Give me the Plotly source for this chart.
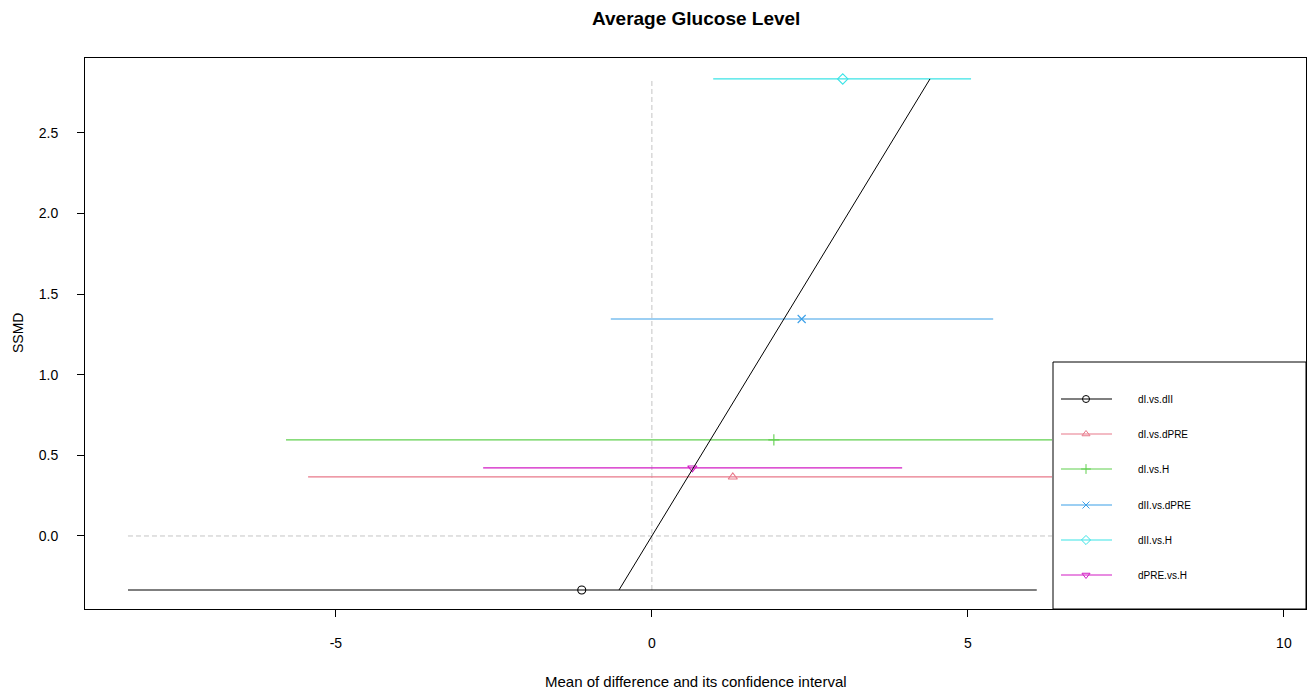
import plotly.graph_objects as go

# ---- data ----
comparisons = ["dI.vs.dII", "dI.vs.dPRE", "dI.vs.H", "dII.vs.dPRE", "dII.vs.H", "dPRE.vs.H"]
mean_diff = [-1.11, 1.28, 1.93, 2.37, 3.02, 0.64]
ci_lower = [-8.29, -5.44, -5.79, -0.65, 0.97, -2.67]
ci_upper = [6.09, 8.00, 9.65, 5.40, 5.05, 3.96]
ssmd = [-0.335, 0.366, 0.596, 1.346, 2.835, 0.422]
fit_x = [-0.52, 4.40]
fit_y = [-0.335, 2.835]
x_ticks = [-5, 0, 5, 10]
y_ticks = [0.0, 0.5, 1.0, 1.5, 2.0, 2.5]

colors = ["#000000", "#E8788A", "#61D04F", "#3A9FE8", "#3BE3E6", "#D21BC4"]
symbols = ["circle-open", "triangle-up-open", "cross-thin-open", "x-thin-open",
           "diamond-open", "triangle-down-open"]

W, H = 1313, 695
L, R, T, B = 85, 1306, 58, 609
FONT = "Liberation Sans, Arial, sans-serif"

fig = go.Figure()

# reference dashed lines
fig.add_trace(go.Scatter(x=[0, 0], y=[min(ssmd), max(ssmd)], mode="lines",
                         line=dict(color="#C4C4C4", width=1, dash="5px,3px"),
                         showlegend=False, hoverinfo="skip"))
fig.add_trace(go.Scatter(x=[min(ci_lower), max(ci_upper)], y=[0, 0], mode="lines",
                         line=dict(color="#C4C4C4", width=1, dash="5px,3px"),
                         showlegend=False, hoverinfo="skip"))

# CI lines and means
for i, name in enumerate(comparisons):
    fig.add_trace(go.Scatter(x=[ci_lower[i], ci_upper[i]], y=[ssmd[i], ssmd[i]], mode="lines",
                             line=dict(color=colors[i], width=1.2),
                             showlegend=False, hoverinfo="skip"))
    fig.add_trace(go.Scatter(x=[mean_diff[i]], y=[ssmd[i]], mode="markers", name=name,
                             marker=dict(symbol=symbols[i], size=8, color=colors[i],
                                         line=dict(width=1.1, color=colors[i])),
                             showlegend=False))

# fitted line
fig.add_trace(go.Scatter(x=fit_x, y=fit_y, mode="lines",
                         line=dict(color="black", width=1), showlegend=False, hoverinfo="skip"))

# ---- manual legend on overlay axes (pixel coordinates) ----
LX0, LX1, LY0, LY1 = 1053, 1306, 362, 609
fig.add_trace(go.Scatter(x=[LX0, LX1, LX1, LX0, LX0], y=[LY1, LY1, LY0, LY0, LY1],
                         mode="lines", fill="toself", fillcolor="white",
                         line=dict(color="black", width=1),
                         xaxis="x2", yaxis="y2", showlegend=False, hoverinfo="skip"))
row_y = [399, 434, 469, 505, 540, 575]
for i, name in enumerate(comparisons):
    fig.add_trace(go.Scatter(x=[1061, 1112], y=[row_y[i], row_y[i]], mode="lines",
                             line=dict(color=colors[i], width=1.2),
                             xaxis="x2", yaxis="y2", showlegend=False, hoverinfo="skip"))
    fig.add_trace(go.Scatter(x=[1086], y=[row_y[i]], mode="markers",
                             marker=dict(symbol=symbols[i], size=7, color=colors[i],
                                         line=dict(width=1, color=colors[i])),
                             xaxis="x2", yaxis="y2", showlegend=False, hoverinfo="skip"))
    fig.add_annotation(x=1136, y=row_y[i], xref="x2", yref="y2", text=name,
                       showarrow=False, xanchor="left", yanchor="middle",
                       font=dict(family=FONT, size=10, color="black"))

pw, ph = R - L, B - T
fig.update_layout(
    width=W, height=H,
    margin=dict(l=L, r=W - R, t=T, b=H - B),
    paper_bgcolor="white", plot_bgcolor="white",
    showlegend=False,
    xaxis=dict(range=[-8.97, 10.35], tickvals=x_ticks, ticktext=[str(v) for v in x_ticks],
               showgrid=False, zeroline=False, showline=True, mirror=True,
               linecolor="black", linewidth=1, ticks="outside", ticklen=7,
               tickcolor="black", ticklabelstandoff=14,
               tickfont=dict(family=FONT, size=14, color="black")),
    yaxis=dict(range=[-0.453, 2.965], tickvals=y_ticks, ticktext=[f"{v:.1f}" for v in y_ticks],
               showgrid=False, zeroline=False, showline=True, mirror=True,
               linecolor="black", linewidth=1, ticks="outside", ticklen=7,
               tickcolor="black", ticklabelstandoff=16,
               tickfont=dict(family=FONT, size=14, color="black")),
    xaxis2=dict(domain=[(1052 - L) / pw, 1], range=[1052, 1306], anchor="y2",
                visible=False, fixedrange=True),
    yaxis2=dict(domain=[0, (B - 360) / ph], range=[609, 360], anchor="x2",
                visible=False, fixedrange=True),
)

fig.add_annotation(x=0.5, y=1 + (T - 18) / ph, xref="paper", yref="paper",
                   text="<b>Average Glucose Level</b>", showarrow=False, yanchor="middle",
                   font=dict(family=FONT, size=19, color="black"))
fig.add_annotation(x=0.5, y=-(681 - B) / ph, xref="paper", yref="paper",
                   text="Mean of difference and its confidence interval", showarrow=False,
                   yanchor="middle", font=dict(family=FONT, size=15, color="black"))
fig.add_annotation(x=-(L - 18) / pw, y=(B - 333) / ph, xref="paper", yref="paper",
                   text="SSMD", textangle=-90, showarrow=False, xanchor="center",
                   yanchor="middle", font=dict(family=FONT, size=14, color="black"))

fig.write_html("out.html")
